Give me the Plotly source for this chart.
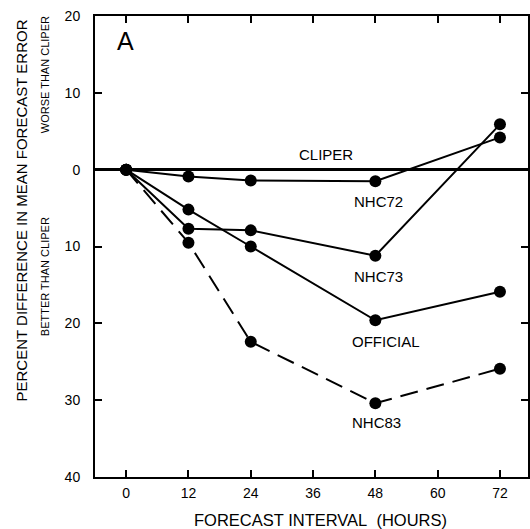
import plotly.graph_objects as go

hours = [0, 12, 24, 48, 72]
nhc72 = [0, -0.9, -1.4, -1.5, 4.2]
nhc73 = [0, -7.7, -7.9, -11.2, 5.9]
official = [0, -5.2, -10.0, -19.6, -15.9]
nhc83 = [0, -9.5, -22.4, -30.4, -25.9]

x_ticks = [0, 12, 24, 36, 48, 60, 72]
y_ticks = [20, 10, 0, -10, -20, -30, -40]
y_ticktext = ["20", "10", "0", "10", "20", "30", "40"]

FONT = "Liberation Sans, Arial, Helvetica, sans-serif"

fig = go.Figure()
series = [
    ("NHC72", nhc72, "solid"),
    ("NHC73", nhc73, "solid"),
    ("OFFICIAL", official, "solid"),
    ("NHC83", nhc83, "18px,9px"),
]
for name, vals, dash in series:
    fig.add_trace(go.Scatter(
        x=hours, y=vals, mode="lines+markers", name=name,
        line=dict(color="black", width=2, dash=dash),
        marker=dict(color="black", size=12),
        showlegend=False,
    ))

labels = [
    ("CLIPER", 38.4, 1.95),
    ("NHC72", 48.6, -4.1),
    ("NHC73", 48.6, -13.9),
    ("OFFICIAL", 50.0, -22.4),
    ("NHC83", 48.3, -32.9),
]
annotations = []
for txt, lx, ly in labels:
    annotations.append(dict(x=lx, y=ly, xref="x", yref="y", text=txt,
                            xanchor="center", yanchor="middle",
                            showarrow=False, font=dict(size=15, color="black", family=FONT)))
annotations.append(dict(x=-0.2, y=16.7, xref="x", yref="y", text="A", showarrow=False,
                        xanchor="center", yanchor="middle",
                        font=dict(size=25, color="black", family=FONT)))
annotations.append(dict(x=-0.170, y=0.579, xref="paper", yref="paper",
                        xanchor="center", yanchor="middle",
                        text="PERCENT DIFFERENCE IN MEAN FORECAST ERROR", textangle=-90,
                        showarrow=False, font=dict(size=15, color="black", family=FONT)))
annotations.append(dict(x=-0.115, y=0.872, xref="paper", yref="paper",
                        xanchor="center", yanchor="middle",
                        text="WORSE THAN CLIPER", textangle=-90,
                        showarrow=False, font=dict(size=11, color="black", family=FONT)))
annotations.append(dict(x=-0.115, y=0.434, xref="paper", yref="paper",
                        xanchor="center", yanchor="middle",
                        text="BETTER THAN CLIPER", textangle=-90,
                        showarrow=False, font=dict(size=11, color="black", family=FONT)))
annotations.append(dict(x=0.52, y=-0.0933, xref="paper", yref="paper",
                        text="FORECAST INTERVAL&nbsp;&nbsp;(HOURS)",
                        xanchor="center", yanchor="middle",
                        showarrow=False, font=dict(size=16.5, color="black", family=FONT)))

fig.update_layout(
    width=530, height=529,
    margin=dict(l=95, r=0, t=16, b=52),
    plot_bgcolor="white", paper_bgcolor="white",
    font=dict(family=FONT, color="black"),
    annotations=annotations,
    xaxis=dict(range=[-6, 77.4], tickvals=x_ticks, ticks="inside", ticklen=7, tickwidth=2,
               tickcolor="black", showline=True, linecolor="black", linewidth=2,
               mirror="ticks", showgrid=False, zeroline=False, ticklabelstandoff=2,
               tickfont=dict(size=14, color="black", family=FONT)),
    yaxis=dict(range=[-40, 20], tickvals=y_ticks, ticktext=y_ticktext, ticks="inside",
               ticklen=7, tickwidth=2, tickcolor="black", showline=True, linecolor="black",
               linewidth=2, mirror="ticks", showgrid=False, zeroline=True,
               zerolinecolor="black", zerolinewidth=3, ticklabelstandoff=10,
               tickfont=dict(size=14, color="black", family=FONT)),
)

fig.write_html("out.html", config={"displayModeBar": False},
               post_script="document.body.style.margin='0';document.body.style.padding='0';")
